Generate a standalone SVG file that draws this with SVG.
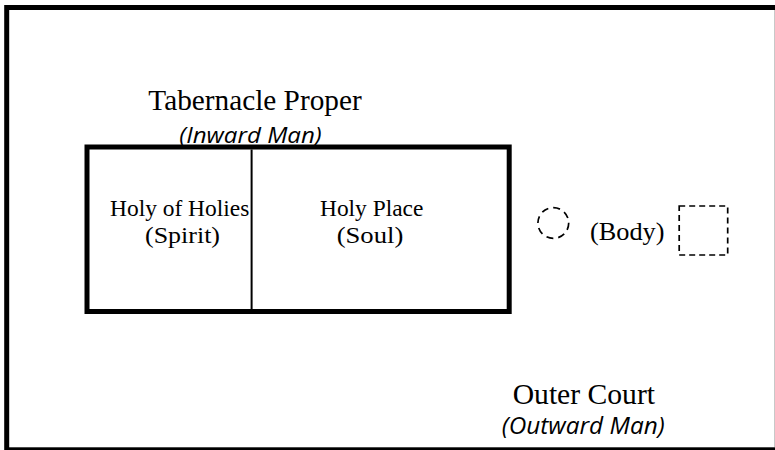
<svg xmlns="http://www.w3.org/2000/svg" width="775" height="450" viewBox="0 0 775 450">
<style>
.serif{font-family:"Liberation Serif","Times New Roman",serif;fill:#000}
.ital{font-family:"Open Sans","Liberation Sans",sans-serif;font-style:italic;fill:#000}
.thick{fill:none;stroke:#000;stroke-width:5}
.dash{fill:none;stroke:#000;stroke-width:1.7}
</style>
<rect width="775" height="450" fill="#fff"/>
<g id="outer-court">
<rect class="thick" x="6.7" y="7.5" width="780" height="442.3"/>
<line x1="774.5" y1="10" x2="774.5" y2="447" stroke="#c8c8c8" stroke-width="1"/>
<text class="serif" x="512.7" y="403.5" font-size="29" textLength="142.3" lengthAdjust="spacingAndGlyphs">Outer Court</text>
<text class="ital" x="501.7" y="433.5" font-size="23" textLength="163" lengthAdjust="spacingAndGlyphs">(Outward Man)</text>
</g>
<g id="tabernacle-proper">
<text class="serif" x="148.3" y="110" font-size="29.5" textLength="213.4" lengthAdjust="spacingAndGlyphs">Tabernacle Proper</text>
<text class="ital" x="179.3" y="143.3" font-size="22.5" textLength="142.4" lengthAdjust="spacingAndGlyphs">(Inward Man)</text>
<rect class="thick" x="87" y="147" width="422.2" height="164.5"/>
</g>
<g id="connectors">
<line x1="251.6" y1="149.5" x2="251.6" y2="309" stroke="#000" stroke-width="2"/>
</g>
<g id="holy-of-holies">
<text class="serif" x="110" y="216" font-size="24" textLength="139.3" lengthAdjust="spacingAndGlyphs">Holy of Holies</text>
<text class="serif" x="145" y="243.3" font-size="24" textLength="75" lengthAdjust="spacingAndGlyphs">(Spirit)</text>
</g>
<g id="holy-place">
<text class="serif" x="320" y="216" font-size="24" textLength="103.3" lengthAdjust="spacingAndGlyphs">Holy Place</text>
<text class="serif" x="336.7" y="243.3" font-size="24" textLength="66.6" lengthAdjust="spacingAndGlyphs">(Soul)</text>
</g>
<g id="body">
<circle class="dash" cx="553.3" cy="223" r="15.4" stroke-dasharray="7 5"/>
<text class="serif" x="590" y="239.5" font-size="26" textLength="74.5" lengthAdjust="spacingAndGlyphs">(Body)</text>
<rect class="dash" x="679.2" y="206" width="48.5" height="49" stroke-dasharray="6 4"/>
</g>
</svg>
